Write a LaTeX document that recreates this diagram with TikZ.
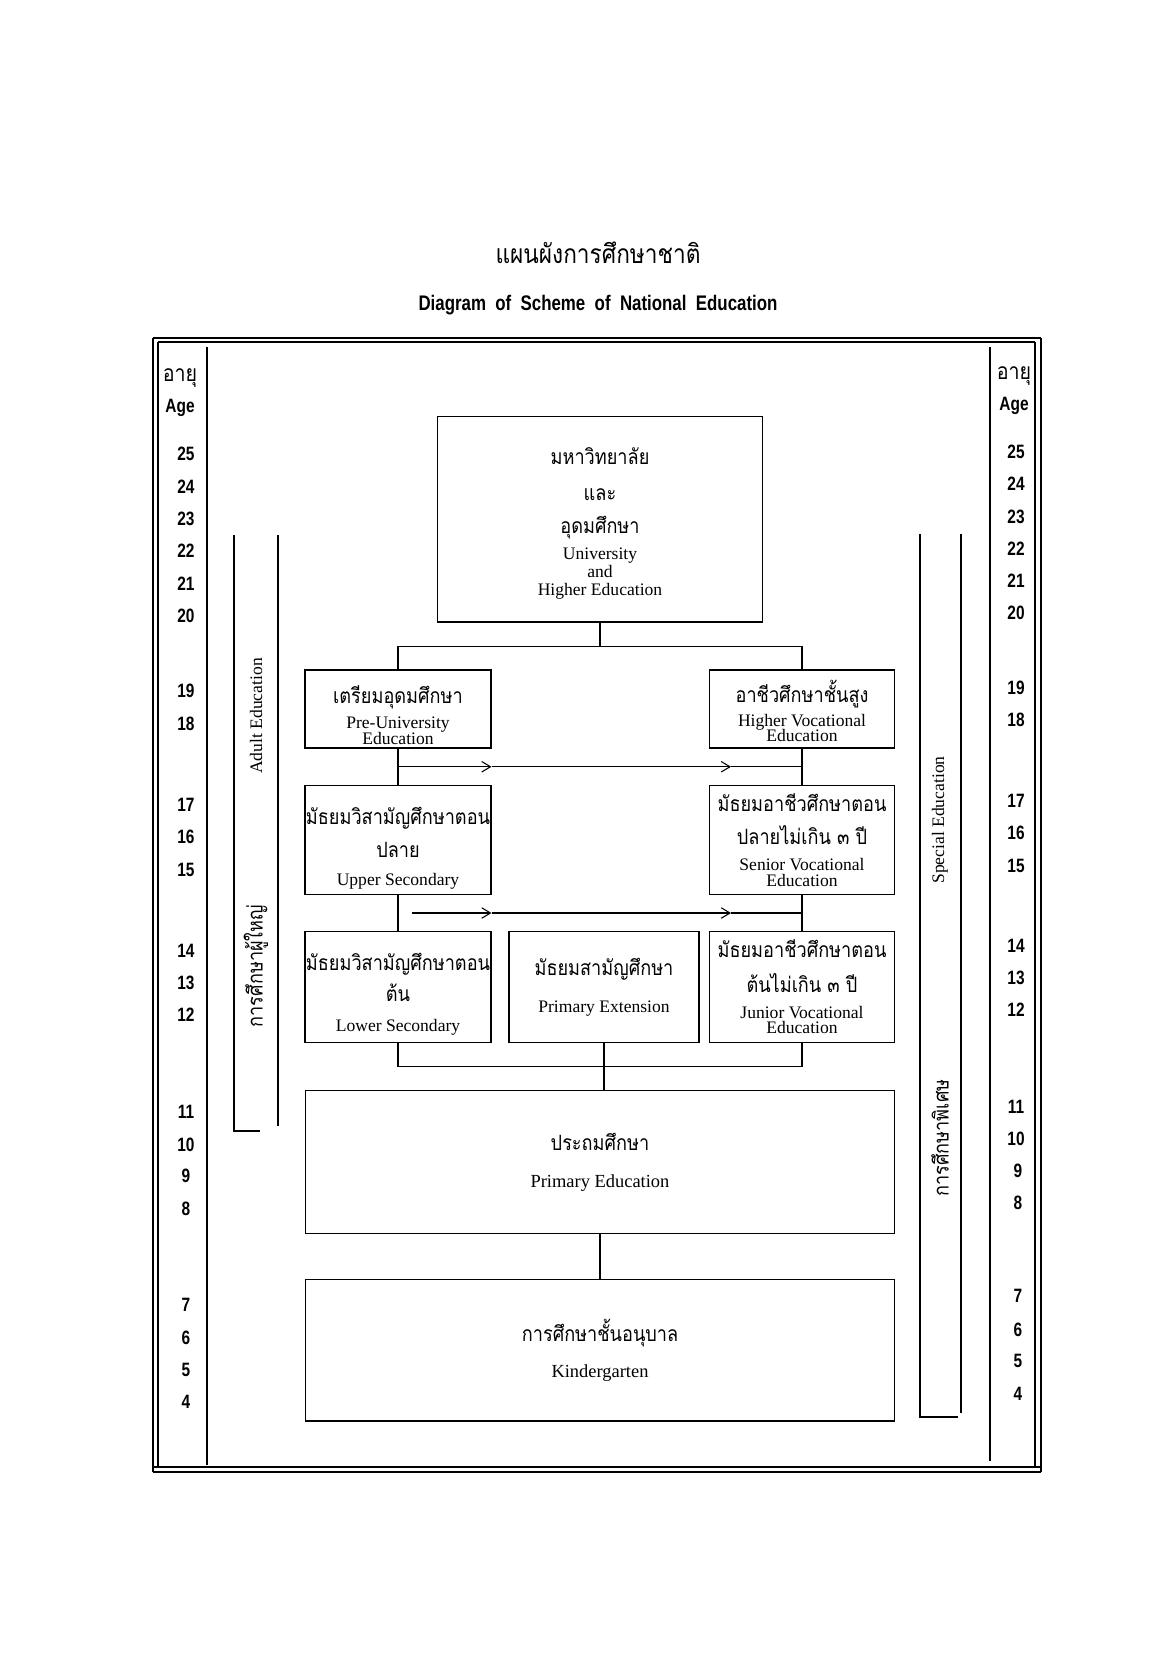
\documentclass[tikz,border=0pt]{standalone}
\usepackage{fontspec}
\setmainfont{Liberation Serif}
\newfontfamily\thaifont[Script=Thai, FakeStretch=0.86]{Loma}
\newfontfamily\narrowfont[FakeStretch=0.8]{Liberation Sans}
\usetikzlibrary{calc,arrows.meta}
\newcommand{\thl}[1]{{\thaifont\fontsize{12}{8.6}\selectfont #1}}
\newcommand{\topgap}[1]{\rule{0pt}{#1}}
\tikzset{
	stage/.style={draw, line width=0.6pt, inner sep=0pt, align=center, font=\fontsize{10}{8.6}\selectfont,
		execute at begin node={\lineskiplimit=-20pt}},
	agenum/.style={font=\narrowfont\bfseries\fontsize{11}{11}\selectfont},
	agehead/.style={font=\thaifont\fontsize{13}{13}\selectfont},
	sideen/.style={rotate=90, font=\fontsize{10}{10}\selectfont},
	sideth/.style={rotate=90, font=\thaifont\fontsize{12}{12}\selectfont},
	link/.style={line width=0.6pt},
	flow/.style={line width=0.6pt, -{Straight Barb[length=5pt,width=6pt]}}
}

\begin{document}
\begin{tikzpicture}[x=0.02cm, y=-0.02cm]
			%%%%% START %%%%%
			\useasboundingbox (0, 0) rectangle (1164, 1660);
			
			\node (titleth) at (598, 253) {\thaifont\fontsize{15}{15}\selectfont แผนผังการศึกษาชาติ};
			\node (titleen) at (598, 305) {\narrowfont\bfseries\fontsize{12}{12}\selectfont Diagram\ \ of\ \ Scheme\ \ of\ \ National\ \ Education};
			
			% frame
			\draw[line width=1pt] (153, 338) -- (1041, 338);
			\draw[line width=0.6pt] (158, 342) -- (1035, 342);
			\draw[line width=1pt] (153, 338) -- (153, 1472);
			\draw[line width=0.8pt] (158, 342) -- (158, 1467);
			\draw[line width=1pt] (1041, 338) -- (1041, 1472);
			\draw[line width=0.8pt] (1035, 342) -- (1035, 1467);
			\draw[line width=1pt] (153, 1467) -- (1041, 1467);
			\draw[line width=1.5pt] (153, 1472) -- (1041, 1472);
			\draw[line width=0.8pt] (207, 347) -- (207, 1465);
			\draw[line width=0.8pt] (990, 347) -- (990, 1461);
			
			% adult and special education
			\draw[line width=0.6pt] (234, 535) -- (234, 1131) -- (260, 1131);
			\draw[line width=0.6pt] (278, 535) -- (278, 1126);
			\draw[line width=0.6pt] (920, 534) -- (920, 1417) -- (958, 1417);
			\draw[line width=0.6pt] (961, 534) -- (961, 1413);
			\node[sideen] (adulten) at (256, 716) {Adult Education};
			\node[sideth] (adultth) at (256, 966) {การศึกษาผู้ใหญ่};
			\node[sideen] (specen) at (940, 820) {Special Education};
			\node[sideth] (specth) at (940, 1138) {การศึกษาพิเศษ};
			
			% ages
			\node[agehead] (lagehead) at (180, 378) {อายุ};
			\node[agenum] (lage) at (180, 408) {Age};
			\node[agenum] (l25) at (186, 454) {25};
			\node[agenum] (l24) at (186, 487) {24};
			\node[agenum] (l23) at (186, 519) {23};
			\node[agenum] (l22) at (186, 551) {22};
			\node[agenum] (l21) at (186, 584) {21};
			\node[agenum] (l20) at (186, 616) {20};
			\node[agenum] (l19) at (186, 691) {19};
			\node[agenum] (l18) at (186, 724) {18};
			\node[agenum] (l17) at (186, 805) {17};
			\node[agenum] (l16) at (186, 837) {16};
			\node[agenum] (l15) at (186, 870) {15};
			\node[agenum] (l14) at (186, 951) {14};
			\node[agenum] (l13) at (186, 983) {13};
			\node[agenum] (l12) at (186, 1015) {12};
			\node[agenum] (l11) at (186, 1112) {11};
			\node[agenum] (l10) at (186, 1145) {10};
			\node[agenum] (l9) at (186, 1176) {9};
			\node[agenum] (l8) at (186, 1209) {8};
			\node[agenum] (l7) at (186, 1305) {7};
			\node[agenum] (l6) at (186, 1338) {6};
			\node[agenum] (l5) at (186, 1370) {5};
			\node[agenum] (l4) at (186, 1402) {4};
			
			\node[agehead] (ragehead) at (1014, 376) {อายุ};
			\node[agenum] (rage) at (1014, 406) {Age};
			\node[agenum] (r25) at (1016, 452) {25};
			\node[agenum] (r24) at (1016, 484) {24};
			\node[agenum] (r23) at (1016, 517) {23};
			\node[agenum] (r22) at (1016, 549) {22};
			\node[agenum] (r21) at (1016, 581) {21};
			\node[agenum] (r20) at (1016, 613) {20};
			\node[agenum] (r19) at (1016, 688) {19};
			\node[agenum] (r18) at (1016, 720) {18};
			\node[agenum] (r17) at (1016, 801) {17};
			\node[agenum] (r16) at (1016, 833) {16};
			\node[agenum] (r15) at (1016, 866) {15};
			\node[agenum] (r14) at (1016, 946) {14};
			\node[agenum] (r13) at (1016, 978) {13};
			\node[agenum] (r12) at (1016, 1010) {12};
			\node[agenum] (r11) at (1016, 1107) {11};
			\node[agenum] (r10) at (1016, 1139) {10};
			\node[agenum] (r9) at (1018, 1171) {9};
			\node[agenum] (r8) at (1018, 1203) {8};
			\node[agenum] (r7) at (1018, 1296) {7};
			\node[agenum] (r6) at (1018, 1330) {6};
			\node[agenum] (r5) at (1018, 1361) {5};
			\node[agenum] (r4) at (1018, 1394) {4};
			
			% stages
			\node[stage, minimum width=6.5cm, minimum height=4.12cm] (uni) at (600, 519)
				{\thl{\topgap{15pt}มหาวิทยาลัย}\\[11.8pt] \thl{และ}\\[10pt] \thl{อุดมศึกษา}\\[6.4pt] University\\[1.6pt] and\\[1.6pt] Higher Education};
			\node[stage, minimum width=3.72cm, minimum height=1.56cm] (pre) at (398, 709)
				{\thl{\topgap{17pt}เตรียมอุดมศึกษา}\\[5.8pt] Pre-University\\ Education};
			\node[stage, minimum width=3.7cm, minimum height=1.56cm] (hivoc) at (802, 709)
				{\thl{\topgap{15pt}อาชีวศึกษาชั้นสูง}\\[5.2pt] Higher Vocational\\ Education};
			\node[stage, minimum width=3.72cm, minimum height=2.18cm] (upsec) at (398, 840)
				{\thl{\topgap{19pt}มัธยมวิสามัญศึกษาตอน}\\[10.6pt] \thl{ปลาย}\\[7pt] Upper Secondary};
			\node[stage, minimum width=3.7cm, minimum height=2.18cm] (senvoc) at (802, 840)
				{\thl{มัธยมอาชีวศึกษาตอน}\\[10pt] \thl{ปลายไม่เกิน ๓ ปี}\\[6.4pt] Senior Vocational\\[0.4pt] Education};
			\node[stage, minimum width=3.72cm, minimum height=2.22cm] (losec) at (398, 987)
				{\thl{\topgap{18pt}มัธยมวิสามัญศึกษาตอน}\\[9.4pt] \thl{ต้น}\\[8.4pt] Lower Secondary};
			\node[stage, minimum width=3.8cm, minimum height=2.22cm] (primext) at (604, 987)
				{\thl{มัธยมสามัญศึกษา}\\[12.4pt] Primary Extension};
			\node[stage, minimum width=3.7cm, minimum height=2.22cm] (junvoc) at (802, 987)
				{\thl{มัธยมอาชีวศึกษาตอน}\\[11.2pt] \thl{ต้นไม่เกิน ๓ ปี}\\[6.4pt] Junior Vocational\\ Education};
			\node[stage, minimum width=11.8cm, minimum height=2.86cm, font=\fontsize{10.5}{8.6}\selectfont] (prim) at (600, 1162)
				{\thl{ประถมศึกษา}\\[12.4pt] Primary Education};
			\node[stage, minimum width=11.8cm, minimum height=2.84cm, font=\fontsize{10.5}{8.6}\selectfont] (kinder) at (600, 1350)
				{\thl{การศึกษาชั้นอนุบาล}\\[11.8pt] Kindergarten};
			
			% connectors
			\coordinate (uhub) at ($(uni.south)+(0, 24)$);
			\draw[link] (uni.south) -- (uhub);
			\draw[link] (pre.north) -- (pre.north |- uhub) -- (hivoc.north |- uhub) -- (hivoc.north);
			
			\coordinate (row1) at ($(pre.south)!0.5!(upsec.north)$);
			\draw[link] (pre.south) -- (upsec.north);
			\draw[link] (hivoc.south) -- (senvoc.north);
			\draw[flow] (row1) -- (row1 -| pre.east);
			\draw[flow] (row1 -| pre.east) -- ($(row1 -| hivoc.west)+(22, 0)$);
			\draw[link] ($(row1 -| hivoc.west)+(22, 0)$) -- (row1 -| hivoc.south);
			
			\coordinate (row2) at ($(upsec.south)!0.5!(losec.north)$);
			\draw[link] (upsec.south) -- (losec.north);
			\draw[link] (senvoc.south) -- (junvoc.north);
			\draw[flow] ($(row2)+(14, 0)$) -- (row2 -| upsec.east);
			\draw[flow] (row2 -| upsec.east) -- ($(row2 -| senvoc.west)+(22, 0)$);
			\draw[link] ($(row2 -| senvoc.west)+(22, 0)$) -- (row2 -| senvoc.south);
			
			\coordinate (lhub) at ($(primext.south)!0.5!(prim.north)$);
			\draw[link] (losec.south) -- (losec.south |- lhub) -- (junvoc.south |- lhub) -- (junvoc.south);
			\draw[link] (primext.south) -- (primext.south |- prim.north);
			\draw[line width=1.2pt] (prim.south) -- (kinder.north);
			
			%%%%% END %%%%%
\end{tikzpicture}
\end{document}
